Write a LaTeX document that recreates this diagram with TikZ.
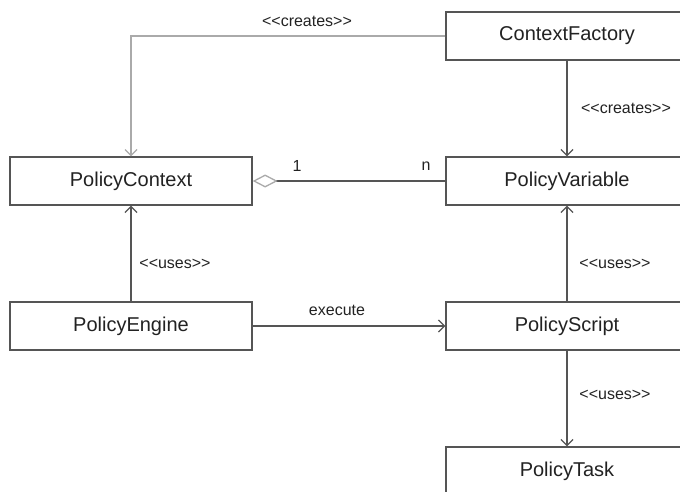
\documentclass[tikz,border=0pt]{standalone}
\usepackage{fontspec}
\setmainfont{Liberation Sans}[Ligatures=TeXOff]
\usetikzlibrary{arrows.meta}
\definecolor{edgegray}{HTML}{555555}
\definecolor{lightline}{HTML}{AAAAAA}
\definecolor{inkgray}{HTML}{222222}
\begin{document}
\begin{tikzpicture}[x=1pt,y=-1pt,
  classbox/.style={draw=edgegray,line width=1.3pt,fill=white,minimum width=242pt,
    minimum height=48pt,inner sep=0pt,text=inkgray,font=\fontsize{20pt}{24pt}\selectfont},
  conn/.style={draw=edgegray,line width=1.3pt},
  lbl/.style={text=inkgray,inner sep=0pt,font=\fontsize{16pt}{19pt}\selectfont},
  opentip/.style={-{Straight Barb[length=6pt,width=12pt]}}]
\useasboundingbox (0,0) rectangle (680,492);

% classes
\node[classbox] (factory)  at (567,36)  {ContextFactory};
\node[classbox] (context)  at (131,181) {PolicyContext};
\node[classbox] (variable) at (567,181) {PolicyVariable};
\node[classbox] (engine)   at (131,326) {PolicyEngine};
\node[classbox] (script)   at (567,326) {PolicyScript};
\node[classbox] (task)     at (567,471) {PolicyTask};

% creation of the context by the factory
\draw[draw=lightline,line width=1.2pt,opentip] (factory.west) -| (context.north);
\node[lbl] (lcreates1) at (307,21) {<<creates>>};

% factory creates variables
\draw[conn,opentip] (factory.south) -- (variable.north);
\node[lbl] (lcreates2) at (626,108) {<<creates>>};

% aggregation: context holds variables
\draw[conn,{Diamond[open,length=25pt,width=13pt,color=lightline,fill=white]}-] (context.east) -- (variable.west);
\node[lbl] (lone) at (297,166) {1};
\node[lbl] (lmany) at (426,166) {n};

% engine uses the context
\draw[conn,opentip] (engine.north) -- (context.south);
\node[lbl] (luses1) at (175,264) {<<uses>>};

% engine executes scripts
\draw[conn,opentip] (engine.east) -- (script.west);
\node[lbl] (lexec) at (337,310) {execute};

% script uses variables and tasks
\draw[conn,opentip] (script.north) -- (variable.south);
\node[lbl] (luses2) at (615,264) {<<uses>>};
\draw[conn,opentip] (script.south) -- (task.north);
\node[lbl] (luses3) at (615,395) {<<uses>>};
\end{tikzpicture}
\end{document}
